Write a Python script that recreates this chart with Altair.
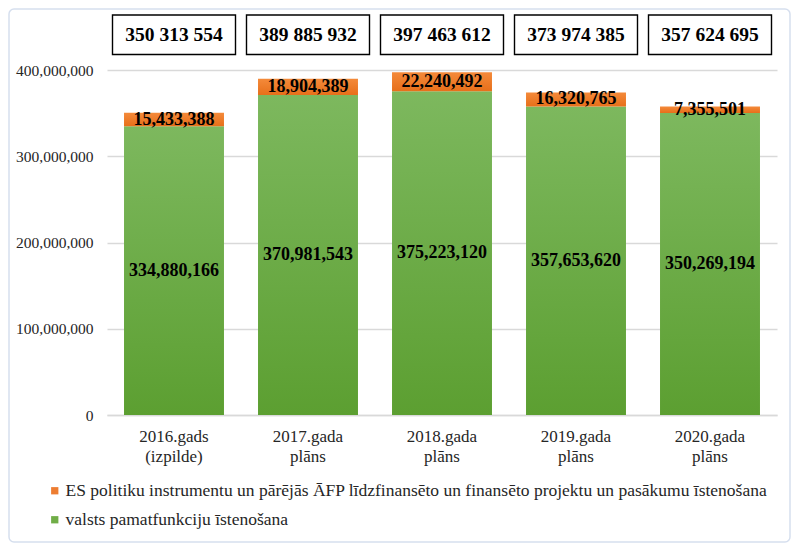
import altair as alt
import pandas as pd

categories = ["2016.gads|(izpilde)", "2017.gada|plāns", "2018.gada|plāns",
              "2019.gada|plāns", "2020.gada|plāns"]
base_values = [334880166, 370981543, 375223120, 357653620, 350269194]
eu_values = [15433388, 18904389, 22240492, 16320765, 7355501]
series_names = [
    "ES politiku instrumentu un pārējās ĀFP līdzfinansēto un finansēto projektu un pasākumu īstenošana",
    "valsts pamatfunkciju īstenošana",
]
series_colors = ["#ed7d31", "#70ad47"]
y_ticks = [0, 100000000, 200000000, 300000000, 400000000]

df = pd.DataFrame({"cat": categories, "base": base_values, "eu": eu_values})
df["total"] = df["base"] + df["eu"]
df["base_mid"] = df["base"] / 2
df["eu_mid"] = df["base"] + df["eu"] / 2
df["base_label"] = df["base"].map(lambda v: f"{v:,}")
df["eu_label"] = df["eu"].map(lambda v: f"{v:,}")
df["total_label"] = df["total"].map(lambda v: f"{v:,}".replace(",", " "))

FONT = "Times New Roman, Liberation Serif, DejaVu Serif, serif"

x_enc = alt.X(
    "cat:N", sort=categories,
    scale=alt.Scale(paddingInner=0.254, paddingOuter=0.127),
    axis=alt.Axis(title=None, labelAngle=0, labelExpr="split(datum.label, '|')",
                  labelFont=FONT, labelFontSize=17, labelLineHeight=20,
                  labelColor="#262626", labelPadding=13, ticks=False,
                  domain=True, domainColor="#d9d9d9", domainWidth=1.3, grid=False),
)
y_scale = alt.Scale(domain=[0, 400000000], nice=False, zero=True)
y_axis = alt.Axis(title=None, values=y_ticks, format=",d", labelFont=FONT,
                  labelFontSize=15.5, labelColor="#262626", labelPadding=14,
                  ticks=False, domain=False, grid=True, gridColor="#d9d9d9",
                  gridWidth=1.3)

green_grad = alt.LinearGradient(
    gradient="linear", x1=0, x2=0, y1=0, y2=1,
    stops=[alt.GradientStop(offset=0, color="#7db85e"),
           alt.GradientStop(offset=1, color="#5c9f31")])
orange_grad = alt.LinearGradient(
    gradient="linear", x1=0, x2=0, y1=0, y2=1,
    stops=[alt.GradientStop(offset=0, color="#f48a3a"),
           alt.GradientStop(offset=1, color="#e76f1a")])

base = alt.Chart(df).encode(x=x_enc)

green = base.mark_bar(color=green_grad).encode(
    y=alt.Y("base:Q", scale=y_scale, axis=y_axis))
orange = base.mark_bar(color=orange_grad).encode(
    y=alt.Y("total:Q", scale=y_scale, axis=y_axis), y2="base:Q")

txt = dict(font=FONT, fontSize=18, fontWeight="bold", color="black", baseline="middle")
green_lbl = base.mark_text(**txt).encode(
    y=alt.Y("base_mid:Q", scale=y_scale, axis=y_axis), text="base_label:N")
orange_lbl = base.mark_text(**txt).encode(
    y=alt.Y("eu_mid:Q", scale=y_scale, axis=y_axis), text="eu_label:N")

boxes = base.mark_bar(size=123, fill="white", stroke="black", strokeWidth=1.4).encode(
    y=alt.value(-55), y2=alt.value(-15.5))
box_txt = base.mark_text(font=FONT, fontSize=19.5, fontWeight="bold", color="black",
                         baseline="middle").encode(
    y=alt.value(-35), text="total_label:N")

border = alt.Chart(pd.DataFrame({"a": [0]})).mark_rect(
    fill="transparent", stroke="#d6dfee", strokeWidth=1.5, cornerRadius=5).encode(
    x=alt.value(-98), x2=alt.value(683), y=alt.value(-61), y2=alt.value(472))

legend_layer = alt.Chart(pd.DataFrame({"s": series_names})).mark_square(opacity=0).encode(
    color=alt.Color("s:N", sort=series_names,
                    scale=alt.Scale(domain=series_names, range=series_colors),
                    legend=alt.Legend(title=None, orient="none", legendX=-61, legendY=412,
                                      direction="vertical", symbolType="square",
                                      symbolSize=53, symbolOpacity=1, symbolStrokeWidth=0,
                                      labelFont=FONT, labelFontSize=17.5, labelColor="#262626",
                                      labelLimit=900, labelOffset=2, rowPadding=10,
                                      padding=0)))

chart = alt.layer(border, green, orange, green_lbl, orange_lbl, boxes, box_txt,
                  legend_layer).properties(
    width=670, height=345,
    autosize=alt.AutoSizeParams(type="none"),
    padding={"left": 99, "top": 62, "right": 15, "bottom": 129},
).configure_view(stroke=None)

chart.save("out.html", embed_options={"renderer": "svg", "actions": False})
